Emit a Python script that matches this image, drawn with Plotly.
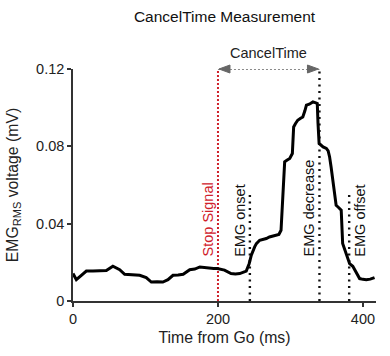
import plotly.graph_objects as go

# ---- data ----
time_ms = [0, 4.6, 11.5, 18.4, 27.6, 37, 46, 55, 64.4, 71.3, 80, 92, 101, 108, 116, 124, 131, 138,
           145, 152, 161, 168, 175, 182, 188.6, 194, 199, 209, 218, 224, 230, 235, 239, 243, 246,
           250.6, 253, 257.5, 262, 266.7, 271, 276, 280.5, 284, 287, 289, 291, 292, 295, 299,
           302.6, 304.4, 307, 310, 314, 317, 320, 322, 326, 331, 335, 337, 338, 339.5, 345,
           349.5, 352, 354, 356, 360, 363, 366, 370, 372, 377, 381.6, 386, 391, 395.4, 400,
           404.6, 410, 416]
emg_mv = [0.0142, 0.0110, 0.0133, 0.0155, 0.0155, 0.0157, 0.0158, 0.0180, 0.0162, 0.0138, 0.0136,
          0.0133, 0.0121, 0.0098, 0.0100, 0.0098, 0.0110, 0.0133, 0.0135, 0.0138, 0.0162, 0.0165,
          0.0176, 0.0172, 0.0170, 0.0168, 0.0168, 0.0160, 0.0142, 0.0140, 0.0142, 0.0150, 0.0155,
          0.0193, 0.0237, 0.0280, 0.0297, 0.0314, 0.0318, 0.0323, 0.0331, 0.0335, 0.0340, 0.0344,
          0.0366, 0.0540, 0.0680, 0.0720, 0.0728, 0.0737, 0.0763, 0.0900, 0.0918, 0.0935, 0.0945,
          0.0952, 0.0985, 0.1013, 0.1018, 0.1030, 0.1025, 0.1022, 0.0920, 0.0815, 0.0797, 0.0789,
          0.0776, 0.0745, 0.0694, 0.0590, 0.0495, 0.0485, 0.0470, 0.0297, 0.0245, 0.0193, 0.0180,
          0.0142, 0.0116, 0.0112, 0.0110, 0.0113, 0.0121]

event_names = ["Stop Signal", "EMG onset", "EMG decrease", "EMG offset"]
event_times = [200, 244, 340, 381]
event_tops = [0.12, 0.055, 0.12, 0.055]
event_colors = ["#d0212b", "#111111", "#111111", "#111111"]
label_shift = [-10, -10, -10, 11]
label_base = 0.022

cancel_start = 200
cancel_end = 340
cancel_level = 0.12

x_ticks = [0, 200, 400]
y_ticks = [0, 0.04, 0.08, 0.12]
y_tick_text = ["0", "0.04", "0.08", "0.12"]
X_RANGE = [0, 418]
Y_RANGE = [0, 0.12]

FONT = "Liberation Sans, Arial, Helvetica, sans-serif"

fig = go.Figure()

# event dotted lines
for name, t, top, col in zip(event_names, event_times, event_tops, event_colors):
    red = col != "#111111"
    fig.add_trace(go.Scatter(
        x=[t, t], y=[0, top], mode="lines", cliponaxis=False, hoverinfo="skip",
        line=dict(color=col, width=2 if red else 2.4, dash="2px,2px" if red else "2px,4.5px"),
        showlegend=False))

# CancelTime dotted shaft
fig.add_trace(go.Scatter(
    x=[cancel_start, cancel_end], y=[cancel_level, cancel_level], mode="lines",
    cliponaxis=False, hoverinfo="skip",
    line=dict(color="#8a8a8a", width=2, dash="2px,2px"), showlegend=False))

# EMG trace
fig.add_trace(go.Scatter(
    x=time_ms, y=emg_mv, mode="lines", cliponaxis=False,
    line=dict(color="black", width=3), showlegend=False))

# arrow heads (pixel-sized, anchored at the CancelTime ends; paper y so they are not clipped)
HEAD_L, HEAD_H = 12, 4
level_paper = (cancel_level - Y_RANGE[0]) / (Y_RANGE[1] - Y_RANGE[0])
for tip, d in [(cancel_start, 1), (cancel_end, -1)]:
    fig.add_shape(
        type="path", xref="x", yref="paper", xsizemode="pixel", ysizemode="pixel",
        xanchor=tip, yanchor=level_paper,
        path=f"M{d},0L{d * HEAD_L},{HEAD_H}L{d * HEAD_L},{-HEAD_H}Z",
        fillcolor="#666666", line=dict(color="#666666", width=1), layer="above")

annotations = [dict(
    x=(cancel_start + cancel_end) / 2, y=cancel_level, xref="x", yref="y",
    text="CancelTime", showarrow=False, yanchor="bottom", yshift=6,
    font=dict(family=FONT, size=14.5, color="#222222"))]

for name, t, col, sh in zip(event_names, event_times, event_colors, label_shift):
    annotations.append(dict(
        x=t, y=label_base, xref="x", yref="y", text=name, textangle=-90,
        showarrow=False, xanchor="center", yanchor="bottom", xshift=sh,
        font=dict(family=FONT, size=14.5, color=col)))

fig.update_layout(
    width=390, height=356,
    margin=dict(l=73, r=14, t=69, b=55),
    paper_bgcolor="white", plot_bgcolor="white",
    font=dict(family=FONT, size=14.5, color="#222222"),
    title=dict(text="CancelTime Measurement", x=0.5, xref="paper", xanchor="center",
               y=1 - 17 / 356, yref="container", yanchor="middle",
               font=dict(family=FONT, size=15.5, color="#111111")),
    annotations=annotations,
    xaxis=dict(range=X_RANGE, tickvals=x_ticks, ticks="outside", ticklen=4, tickwidth=1.5,
               tickcolor="#333333", showline=True, linecolor="#333333", linewidth=1.6,
               showgrid=False, zeroline=False, automargin=False,
               tickfont=dict(family=FONT, size=14.5, color="#222222"),
               title=dict(text="Time from Go (ms)", standoff=6,
                          font=dict(family=FONT, size=15.8, color="#222222"))),
    yaxis=dict(range=Y_RANGE, tickvals=y_ticks, ticktext=y_tick_text, ticks="outside",
               ticklen=4, tickwidth=1.5, tickcolor="#333333", showline=True,
               linecolor="#333333", linewidth=1.6, showgrid=False, zeroline=False,
               automargin=False,
               tickfont=dict(family=FONT, size=14.5, color="#222222"),
               title=dict(text="EMG<sub>RMS</sub> voltage (mV)", standoff=14,
                          font=dict(family=FONT, size=15.8, color="#222222"))),
)

fig.write_html("out.html", config={"displayModeBar": False},
               post_script="document.body.style.margin='0';document.body.style.overflow='hidden';")
